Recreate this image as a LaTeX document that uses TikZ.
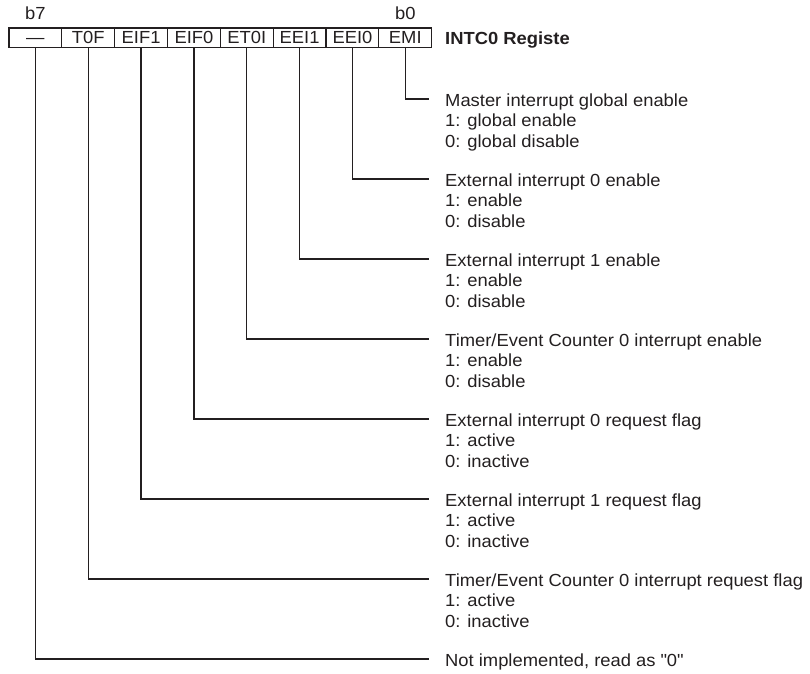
\documentclass[tikz,border=0pt]{standalone}
\usepackage{fontspec}
\setmainfont[FakeStretch=1.05]{Liberation Sans}
\definecolor{ink}{RGB}{35,31,32}
\tikzset{
  cellbox/.style={draw=ink, line width=1.2pt, minimum width=52.84pt, minimum height=19.3pt, inner sep=0pt, text height=12.5pt, text depth=0pt, font=\fontsize{17.5}{20.5}\selectfont, text=ink},
  desc/.style={anchor=base west, inner sep=0pt, font=\fontsize{17.5}{20.5}\selectfont, text=ink},
  bitlbl/.style={anchor=base, inner sep=0pt, font=\fontsize{17.5}{20.5}\selectfont, text=ink},
  lead/.style={draw=ink, line width=1.3pt},
}
\begin{document}
\begin{tikzpicture}[x=1pt,y=-1pt]
\useasboundingbox (0,0) rectangle (810,673);
% register cells
\foreach \t [count=\i from 0] in {{---},T0F,EIF1,EIF0,ET0I,EEI1,EEI0,EMI}
  \node[cellbox] (c\i) at ({9+52.84*(\i+0.5)},37.65) {\t};
\node[bitlbl] (b7) at (c0.center |- 0,19) {b7};
\node[bitlbl] (b0) at (c7.center |- 0,19) {b0};
\node[desc, font=\fontsize{17.5}{20.5}\selectfont\bfseries] (title) at (445,44) {INTC0 Registe};
% leader end points
\foreach \i in {0,...,7}
  \coordinate (e\i) at (429,{659-80*\i});
\foreach \i in {0,...,7}
  \draw[lead] (c\i.south) |- (e\i);
% descriptions
\node[desc] (d7) at (445,106) {Master interrupt global enable};
\node[desc] (d7a) at (445,126.5) {1: global enable};
\node[desc] (d7b) at (445,147) {0: global disable};
\node[desc] (d6) at (445,186) {External interrupt 0 enable};
\node[desc] (d6a) at (445,206.5) {1: enable};
\node[desc] (d6b) at (445,227) {0: disable};
\node[desc] (d5) at (445,266) {External interrupt 1 enable};
\node[desc] (d5a) at (445,286.5) {1: enable};
\node[desc] (d5b) at (445,307) {0: disable};
\node[desc] (d4) at (445,346) {Timer/Event Counter 0 interrupt enable};
\node[desc] (d4a) at (445,366.5) {1: enable};
\node[desc] (d4b) at (445,387) {0: disable};
\node[desc] (d3) at (445,426) {External interrupt 0 request flag};
\node[desc] (d3a) at (445,446.5) {1: active};
\node[desc] (d3b) at (445,467) {0: inactive};
\node[desc] (d2) at (445,506) {External interrupt 1 request flag};
\node[desc] (d2a) at (445,526.5) {1: active};
\node[desc] (d2b) at (445,547) {0: inactive};
\node[desc] (d1) at (445,586) {Timer/Event Counter 0 interrupt request flag};
\node[desc] (d1a) at (445,606.5) {1: active};
\node[desc] (d1b) at (445,627) {0: inactive};
\node[desc] (d0) at (445,666) {Not implemented, read as \textquotedbl 0\textquotedbl};
\end{tikzpicture}
\end{document}
